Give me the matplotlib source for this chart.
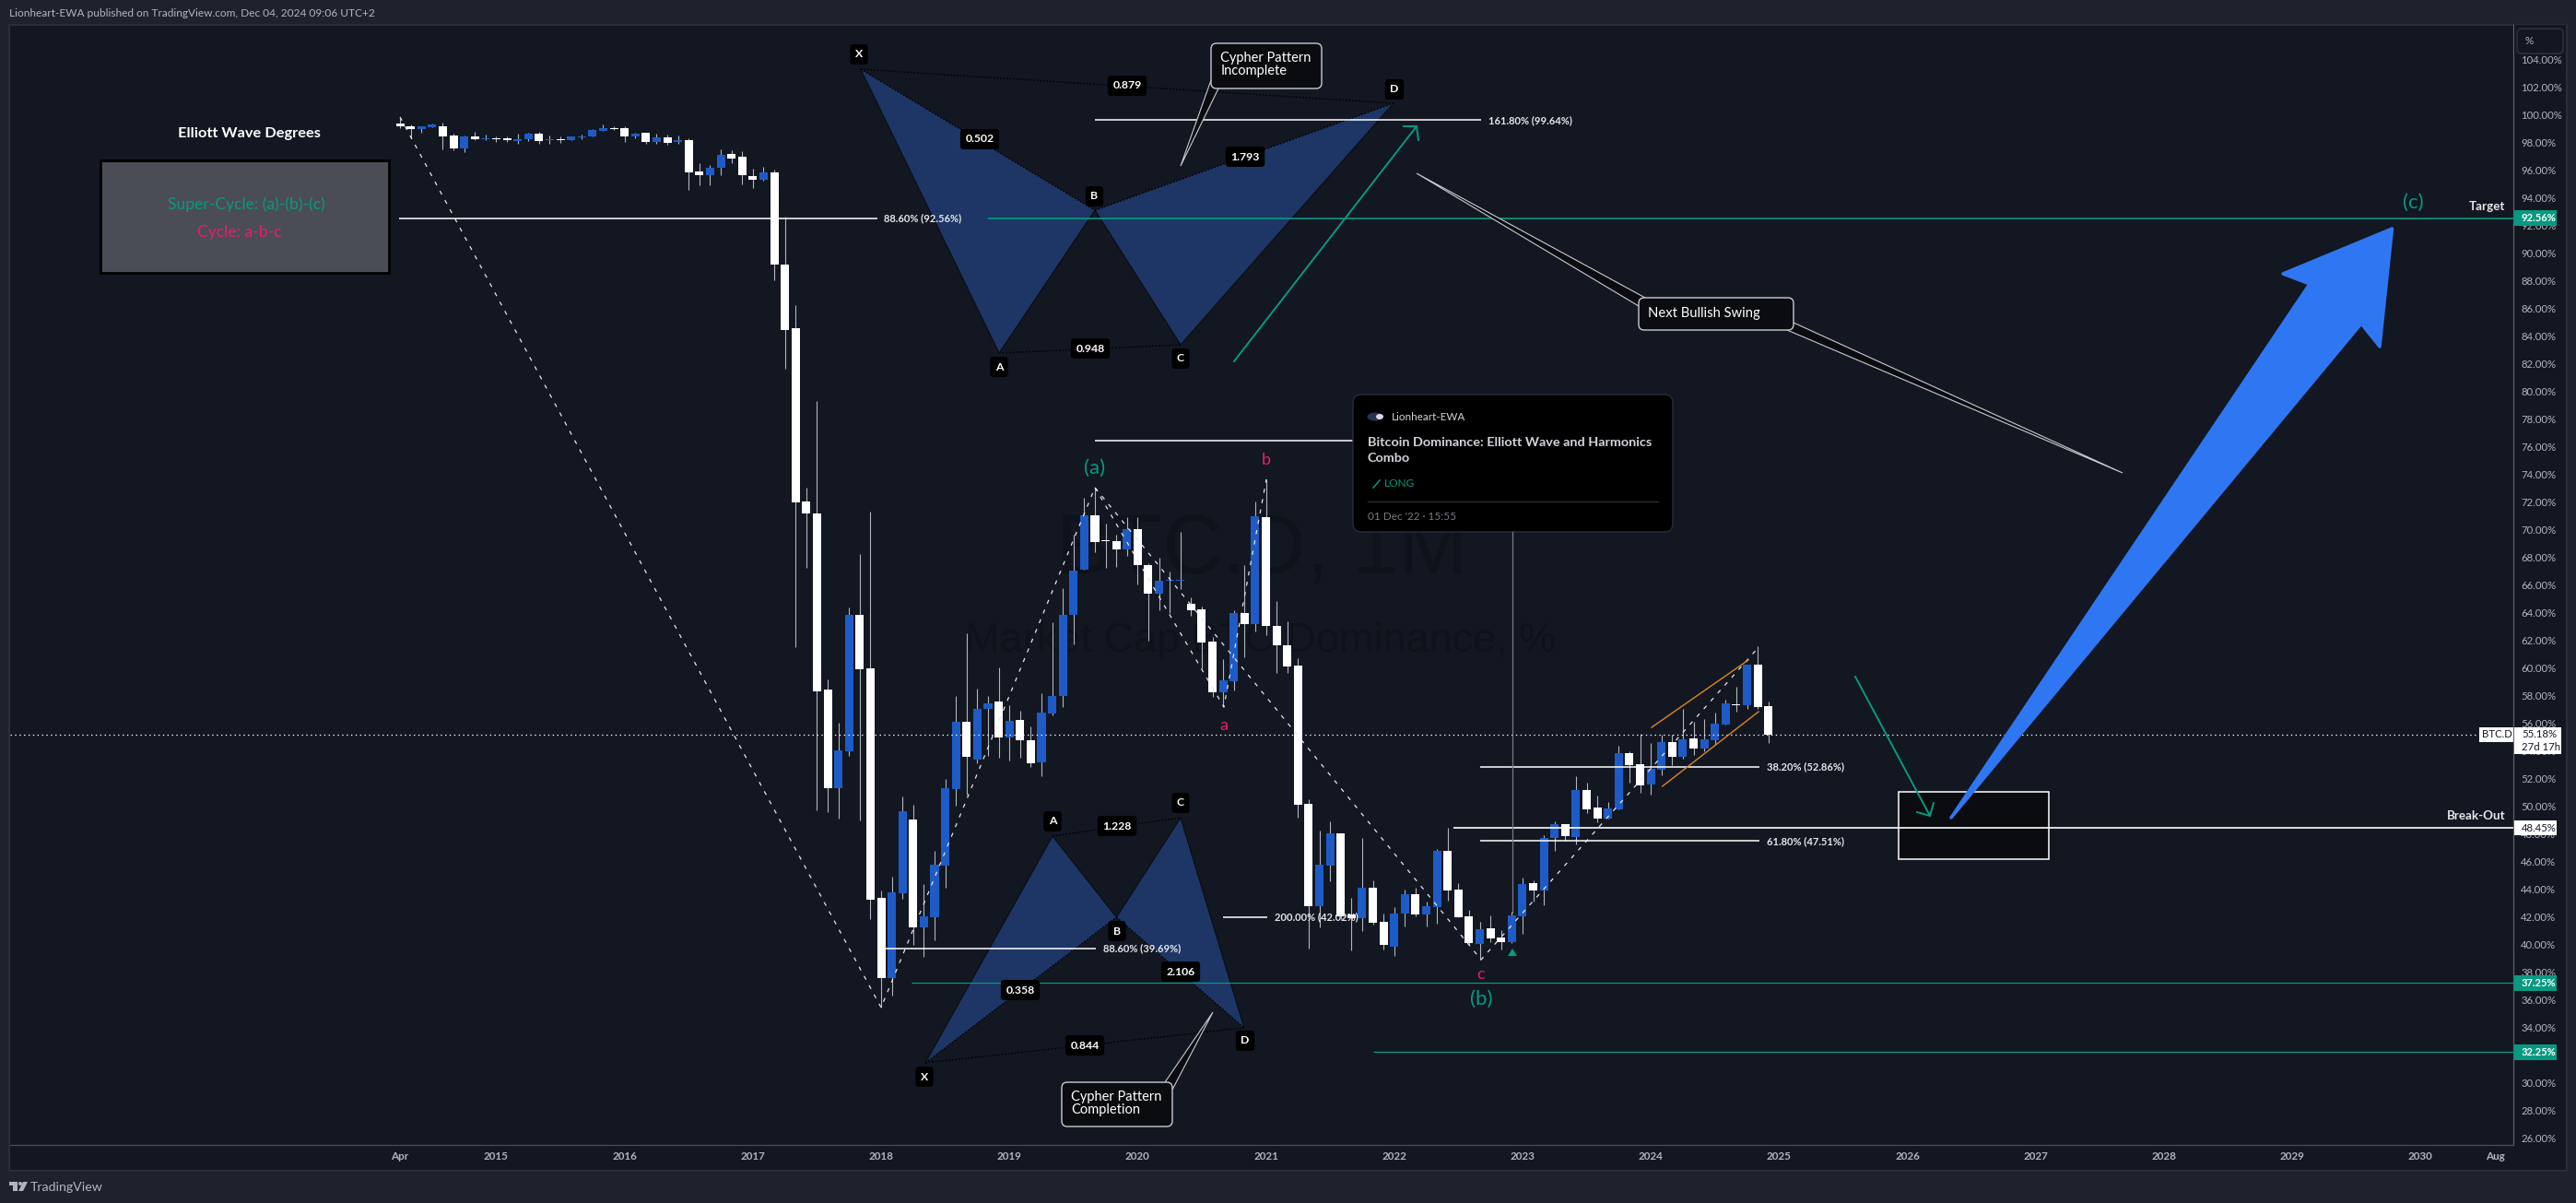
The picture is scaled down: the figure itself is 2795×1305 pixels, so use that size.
import numpy as np
import matplotlib
matplotlib.use("Agg")
import matplotlib.pyplot as plt
from matplotlib.patches import FancyBboxPatch, Polygon, Rectangle, Ellipse

# monthly BTC.D candles, Apr 2014 -> Dec 2024
opens = [99.40, 99.20, 99.00, 99.13, 99.20, 98.53, 97.60, 98.47, 98.27, 98.33,
         98.33, 98.13, 98.27, 98.67, 98.20, 98.27, 98.20, 98.40, 98.47, 98.87,
         99.07, 99.07, 98.47, 98.73, 98.07, 98.40, 98.07, 98.20, 95.93, 95.67,
         96.20, 97.20, 97.00, 95.60, 95.33, 95.87, 89.20, 84.60, 72.07, 71.20,
         58.47, 51.33, 54.00, 63.87, 60.00, 43.40, 37.62, 43.73, 49.07, 41.27,
         42.00, 45.73, 51.27, 56.13, 53.40, 57.07, 57.60, 55.00, 56.27, 54.80,
         53.20, 56.73, 58.00, 63.87, 67.13, 71.07, 69.27, 69.20, 68.60, 70.07,
         67.47, 65.40, 66.33, 66.33, 64.67, 64.27, 61.93, 58.27, 59.07, 64.00,
         63.19, 70.94, 63.06, 61.66, 60.20, 50.20, 42.81, 45.74, 48.06, 42.19,
         41.94, 44.13, 41.66, 39.87, 42.27, 43.67, 42.19, 42.73, 46.81, 44.00,
         42.07, 40.08, 41.20, 40.54, 40.20, 42.07, 44.46, 43.93, 47.73, 48.72,
         47.81, 51.20, 49.92, 49.13, 49.82, 53.87, 53.07, 51.60, 52.67, 54.67,
         53.60, 54.93, 54.20, 54.80, 55.93, 57.40, 57.33, 60.27, 57.27]
closes = [99.22, 99.00, 99.20, 99.33, 98.47, 97.60, 98.47, 98.27, 98.33, 98.27,
          98.20, 98.27, 98.67, 98.13, 98.27, 98.20, 98.47, 98.47, 98.93, 99.07,
          99.00, 98.47, 98.67, 98.07, 98.40, 98.00, 98.20, 95.87, 95.67, 96.20,
          97.13, 96.87, 95.67, 95.33, 95.87, 89.20, 84.47, 72.00, 71.20, 58.33,
          51.33, 54.07, 63.87, 59.93, 43.27, 37.62, 43.80, 49.67, 41.27, 42.07,
          45.80, 51.33, 56.13, 53.60, 57.07, 57.47, 55.00, 56.20, 54.80, 53.13,
          56.80, 58.00, 63.87, 67.07, 71.07, 69.13, 69.20, 68.60, 70.07, 67.47,
          65.40, 66.33, 66.40, 66.40, 64.20, 61.87, 58.27, 59.13, 64.00, 63.19,
          71.00, 63.06, 61.66, 60.15, 50.13, 42.81, 45.79, 48.06, 42.09, 41.94,
          44.13, 41.63, 40.00, 42.27, 43.67, 42.19, 42.81, 46.81, 43.93, 41.99,
          40.13, 41.12, 40.46, 40.20, 42.14, 44.39, 43.93, 47.73, 48.72, 47.86,
          51.20, 49.82, 49.13, 49.87, 53.88, 53.00, 51.53, 52.73, 54.67, 53.60,
          54.87, 54.20, 54.87, 56.00, 57.47, 57.33, 60.27, 57.20, 55.18]
highs = [99.78, 99.33, 99.20, 99.40, 99.47, 98.67, 98.53, 98.80, 98.60, 98.47,
         98.47, 98.67, 98.73, 98.80, 98.53, 98.47, 98.47, 98.60, 99.00, 99.33,
         99.20, 99.20, 98.73, 98.73, 98.67, 98.60, 98.53, 98.33, 96.53, 96.40,
         97.53, 97.47, 97.40, 96.13, 96.27, 96.07, 92.67, 86.27, 73.07, 79.33,
         59.20, 56.07, 64.40, 68.27, 71.33, 43.93, 44.93, 50.73, 50.13, 44.40,
         46.80, 52.00, 58.00, 62.53, 58.53, 58.00, 60.07, 57.33, 56.93, 55.80,
         58.20, 63.33, 65.80, 69.67, 72.33, 73.07, 70.47, 69.67, 70.93, 70.93,
         67.60, 68.00, 67.00, 69.87, 65.13, 64.47, 62.27, 60.67, 64.20, 67.47,
         72.07, 73.67, 64.87, 63.39, 60.71, 50.51, 48.27, 48.93, 48.06, 43.37,
         47.70, 44.64, 42.24, 42.73, 43.98, 44.13, 43.11, 46.94, 48.47, 44.46,
         42.53, 41.66, 42.14, 41.07, 42.40, 44.87, 44.64, 47.91, 48.93, 48.72,
         52.17, 51.73, 50.79, 50.33, 54.39, 54.00, 55.27, 54.60, 55.20, 55.20,
         57.07, 56.13, 56.33, 56.80, 57.73, 58.67, 60.27, 61.60, 57.60]
lows = [99.07, 98.33, 98.73, 99.13, 97.53, 97.47, 97.33, 98.20, 98.20, 98.07,
        98.07, 97.93, 98.13, 97.93, 97.93, 98.00, 98.20, 98.27, 98.47, 98.87,
        98.93, 98.07, 98.33, 97.93, 97.93, 97.87, 97.93, 94.60, 94.93, 94.93,
        95.67, 96.53, 95.00, 94.73, 95.27, 88.07, 81.67, 61.53, 67.27, 49.73,
        49.60, 49.13, 53.67, 49.00, 41.89, 35.44, 36.33, 43.33, 40.00, 39.13,
        40.33, 44.13, 50.07, 50.87, 53.11, 53.67, 53.53, 53.33, 53.53, 52.87,
        52.20, 56.60, 57.20, 61.73, 67.13, 68.40, 67.27, 67.33, 68.13, 66.07,
        62.00, 64.20, 64.00, 65.73, 63.80, 60.00, 57.93, 57.22, 58.40, 60.79,
        62.68, 62.42, 59.69, 59.69, 49.23, 39.75, 41.28, 44.59, 41.84, 39.59,
        40.99, 41.48, 39.67, 39.21, 41.33, 42.09, 41.33, 41.53, 43.19, 41.99,
        39.97, 38.90, 40.20, 39.67, 40.13, 40.77, 43.11, 42.88, 46.81, 47.50,
        47.27, 49.54, 48.85, 49.13, 49.82, 51.73, 51.00, 50.87, 52.27, 53.00,
        53.47, 53.73, 54.00, 54.47, 55.93, 56.87, 57.07, 57.07, 54.60]

# wave zigzags (year, percent)
swing_years = [2014.25, 2018.00, 2019.667, 2022.677, 2024.84]
swing_values = [99.87, 35.47, 73.07, 38.93, 61.53]
ab_years = [2019.667, 2020.672, 2021.003]
ab_values = [73.07, 57.20, 73.67]

# harmonic patterns X A B C D
top_years = [2017.84, 2018.92, 2019.667, 2020.335, 2021.994]
top_values = [103.33, 82.80, 93.13, 83.40, 100.87]
bottom_years = [2018.345, 2019.336, 2019.835, 2020.335, 2020.83]
bottom_values = [31.47, 47.87, 42.00, 49.20, 34.00]

# fib levels
fib_labels = ["88.60% (92.56%)", "161.80% (99.64%)", "38.20% (52.86%)",
              "61.80% (47.51%)", "88.60% (39.69%)", "200.00% (42.02%)"]
fib_values = [92.56, 99.64, 52.86, 47.51, 39.73, 42.02]
fib_starts = [2014.243, 2019.667, 2022.67, 2022.67, 2018.036, 2020.665]
fib_ends = [2017.97, 2022.677, 2024.846, 2024.846, 2019.674, 2021.01]

# horizontal levels with their price tags
target_level = 92.56
breakout_level = 48.45
support_levels = [37.25, 32.25]
support_starts = [2018.24, 2021.836]
last_price = 55.18

# channel around the last leg
upper_years, upper_values = [2024.006, 2024.76], [55.73, 60.60]
lower_years, lower_values = [2024.09, 2024.84], [51.47, 56.87]

price_ticks = list(range(26, 106, 2))
year_ticks = [2014.25] + list(range(2015, 2031)) + [2030.58]
year_labels = ["Apr"] + [str(y) for y in range(2015, 2031)] + ["Aug"]

W, H = 2795, 1305
BG = "#131722"
OUTER = "#1E222D"
TEAL = "#089981"
PINK = "#E91E63"
BLUE = "#1E5BC6"
GREY = "#B2B5BE"
DARK = "#0B0C10"
FILL = "#1E3868"

plt.rcParams["font.family"] = ["Lato", "DejaVu Sans"]
plt.rcParams["lines.scale_dashes"] = False

fig = plt.figure(figsize=(W / 100, H / 100), dpi=100, facecolor=OUTER)


def pixel_axes(z):
    a = fig.add_axes([0, 0, 1, 1], zorder=z)
    a.set_xlim(0, W)
    a.set_ylim(H, 0)
    a.axis("off")
    a.patch.set_alpha(0)
    return a


base = pixel_axes(0)
base.add_patch(Rectangle((10, 27), 2775, 1243, fc=BG, ec="#2A2E39", lw=1.5))

# main chart, the limits put 2018 at x=956 and 100% at y=125
ax = fig.add_axes([11 / W, (H - 1242) / H, (2727 - 11) / W, (1242 - 27) / H], zorder=1)
ax.set_facecolor(BG)
ax.patch.set_alpha(0)
ax.set_xlim(2011.211, 2030.723)
ax.set_ylim(25.533, 106.533)
for side in ["top", "left"]:
    ax.spines[side].set_visible(False)
ax.spines["right"].set_color("#5D606B")
ax.spines["bottom"].set_color("#4A4E59")
ax.spines["right"].set_linewidth(0.9)
ax.spines["bottom"].set_linewidth(0.9)

ax.yaxis.tick_right()
ax.set_yticks(price_ticks)
ax.set_yticklabels([f"{v}.00%" for v in price_ticks], color=GREY, fontsize=8.2)
ax.set_xticks(year_ticks)
ax.set_xticklabels(year_labels, color=GREY, fontsize=8.4, fontweight="bold")
ax.tick_params(axis="both", length=0)
ax.tick_params(axis="y", pad=6)
ax.tick_params(axis="x", pad=5)

# watermark
ax.text(2020.97, 66.87, "BTC.D, 1M", fontsize=65, color="#0E121A", ha="center", va="baseline",
        zorder=0.5, family="Liberation Sans")
ax.text(2020.96, 61.2, "Market Cap BTC Dominance, %", fontsize=32.5, color="#0E121A",
        ha="center", va="baseline", zorder=0.5, family="Liberation Sans")

# candles
opens_a, closes_a = np.array(opens), np.array(closes)
dates = 2014.25 + np.arange(len(opens_a)) / 12
colors = [BLUE if c > o else "white" for o, c in zip(opens_a, closes_a)]
ax.vlines(dates, lows, highs, color=GREY, lw=0.8, zorder=2)
ax.bar(dates, np.abs(closes_a - opens_a), bottom=np.minimum(opens_a, closes_a),
       width=0.0647, color=colors, lw=0, zorder=3)

# black box with the break-out line through it
ax.add_patch(Rectangle((2025.93, 46.2), 1.17, 4.87, fc=DARK, ec="white", lw=1.1, zorder=4))

# levels
ax.hlines(target_level, 2018.83, 2030.723, color=TEAL, lw=1.2, zorder=5)
ax.hlines(breakout_level, 2022.46, 2030.723, color="white", lw=1.2, zorder=5)
ax.hlines(support_levels, support_starts, 2030.723, color=TEAL, lw=0.9, zorder=5)
ax.plot([2011.211, 2030.45], [last_price, last_price], color="white", lw=0.9,
        ls=(0, (1, 2.5)), zorder=4)
ax.hlines(76.47, 2019.67, 2021.68, color="white", lw=1.1, zorder=5)

# harmonic patterns
for yrs, vals in [(top_years, top_values), (bottom_years, bottom_values)]:
    pts = list(zip(yrs, vals))
    x_, a_, b_, c_, d_ = pts
    ax.add_patch(Polygon([x_, a_, b_], fc=FILL, ec="none", alpha=0.97, zorder=4.5))
    ax.add_patch(Polygon([b_, c_, d_], fc=FILL, ec="none", alpha=0.97, zorder=4.5))
    for p, q in [(x_, a_), (a_, b_), (b_, c_), (c_, d_)]:
        ax.plot([p[0], q[0]], [p[1], q[1]], color="#0B0E14", lw=0.9, zorder=4.6)
    for p, q in [(x_, b_), (b_, d_), (x_, d_), (a_, c_)]:
        ax.plot([p[0], q[0]], [p[1], q[1]], color="black", lw=1.0, ls=(0, (1.2, 1.4)), zorder=4.6)

# wave lines
dash = (0, (3.2, 5))
ax.plot(swing_years, swing_values, color="#E8E9EC", lw=0.9, ls=dash, zorder=6)
ax.plot(ab_years, ab_values, color="#E8E9EC", lw=0.9, ls=dash, zorder=6)
ax.plot(upper_years, upper_values, color="#D88A1D", lw=1.0, zorder=6)
ax.plot(lower_years, lower_values, color="#D88A1D", lw=1.0, zorder=6)

# fib lines with their text
for lab, val, x0, x1 in zip(fib_labels, fib_values, fib_starts, fib_ends):
    ax.hlines(val, x0, x1, color="white", lw=1.1, zorder=5)
    ax.annotate(lab, (x1, val), xytext=(5.5, 0), textcoords="offset points", ha="left",
                va="center", color="#E6E7EA", fontsize=8.0, fontweight="bold", zorder=7)

# ---- everything below is drawn in picture pixels
ov = pixel_axes(2)


def txt(x, y, s, size=9, color="white", ha="left", weight="normal", **kw):
    return ov.text(x, y, s, fontsize=size, color=color, ha=ha, va="center", fontweight=weight, **kw)


def box(x0, y0, x1, y1, fc, ec, lw=1.0, r=6):
    p = FancyBboxPatch((x0, y0), x1 - x0, y1 - y0, boxstyle=f"round,pad=0,rounding_size={r}",
                       fc=fc, ec=ec, lw=lw)
    ov.add_patch(p)


txt(10, 15, "Lionheart-EWA published on TradingView.com, Dec 04, 2024 09:06 UTC+2", size=8.6, color=GREY)

# logo and name at the bottom
ov.add_patch(Polygon([(10, 1282), (19, 1282), (19, 1292), (14, 1292), (14, 1286), (10, 1286)], fc=GREY, ec="none"))
ov.add_patch(Ellipse((22, 1284), 4, 4, fc=GREY, ec="none"))
ov.add_patch(Polygon([(25, 1282), (30, 1282), (25, 1292), (20, 1292)], fc=GREY, ec="none"))
txt(33, 1288, "TradingView", size=10.2, color=GREY)

# degrees box
txt(270, 145, "Elliott Wave Degrees", size=11.8, ha="center", weight="bold")
ov.add_patch(Rectangle((109, 174), 313, 122, fc="#4A4D55", ec="black", lw=2))
txt(267, 222, "Super-Cycle: (a)-(b)-(c)", size=12.6, color=TEAL, ha="center")
txt(260, 252, "Cycle: a-b-c", size=12.6, color=PINK, ha="center")

# wave labels
for x, y, s in [(1188, 508, "(a)"), (1607, 1084, "(b)"), (2618, 220, "(c)")]:
    txt(x, y, s, size=16, color=TEAL, ha="center")
for x, y, s in [(1328, 787, "a"), (1374, 499, "b"), (1607, 1057, "c")]:
    txt(x, y, s, size=13, color=PINK, ha="center")

# pattern tags
tags = [(932, 59, "X"), (1084, 398, "A"), (1187.5, 213, "B"), (1281, 389, "C"), (1513, 97, "D"),
        (1223, 93, "0.879"), (1063, 151, "0.502"), (1351, 170, "1.793"), (1183, 378, "0.948"),
        (1003, 1168, "X"), (1142, 891, "A"), (1212, 1010, "B"), (1281, 871, "C"), (1351, 1129, "D"),
        (1212, 896, "1.228"), (1107, 1074, "0.358"), (1281, 1054, "2.106"), (1177, 1134, "0.844")]
for x, y, s in tags:
    txt(x, y, s, size=8.8, ha="center", weight="bold",
        bbox=dict(boxstyle="round,pad=0.45,rounding_size=0.3", fc="black", ec="none"))

# callouts
ov.add_patch(Polygon([(1314, 87), (1281, 180), (1322, 96)], fc=DARK, ec="#C9CBD1", lw=0.8))
box(1314, 47, 1434, 96, DARK, "#C9CBD1")
txt(1324.5, 63, "Cypher Pattern", size=10.5)
txt(1324.5, 77, "Incomplete", size=10.5)

ov.add_patch(Polygon([(1264, 1174), (1316, 1098), (1272, 1182)], fc=DARK, ec="#C9CBD1", lw=0.8))
box(1152, 1174, 1272, 1222, DARK, "#C9CBD1")
txt(1162, 1190, "Cypher Pattern", size=10.5)
txt(1162, 1204, "Completion", size=10.5)

ov.add_patch(Polygon([(1785, 323), (1537, 188), (1778, 332)], fc=DARK, ec="#C9CBD1", lw=0.8))
ov.add_patch(Polygon([(1946, 350), (2303, 513), (1939, 358)], fc=DARK, ec="#C9CBD1", lw=0.8))
box(1778, 323, 1946, 358, DARK, "#C9CBD1")
txt(1788.5, 340, "Next Bullish Swing", size=10.6)

# idea popup
ov.plot([1641, 1641], [577, 990], color="#787B86", lw=0.9)
ov.add_patch(Polygon([(1636, 1037), (1646, 1037), (1641, 1029)], fc=TEAL, ec="none"))
box(1468, 428, 1815, 577, "black", "#2A2E39", lw=1.0, r=9)
ov.add_patch(Ellipse((1492, 452), 17, 9, fc="#26324E", ec="none"))
ov.add_patch(Ellipse((1497, 452), 8, 6, fc="#D8DAE0", ec="none"))
txt(1510, 452, "Lionheart-EWA", size=8.4, color="#D1D4DC")
txt(1484, 480, "Bitcoin Dominance: Elliott Wave and Harmonics", size=10.4, color="#D1D4DC", weight="bold")
txt(1484, 497, "Combo", size=10.4, color="#D1D4DC", weight="bold")
ov.plot([1490, 1497], [529, 521], color=TEAL, lw=1.1)
txt(1502, 525, "LONG", size=8.6, color=TEAL)
ov.plot([1484, 1799], [544, 544], color="#2A2E39", lw=1)
txt(1484, 560, "01 Dec '22 · 15:55", size=8.5, color="#787B86")

# teal arrows
ov.plot([1339, 1537], [392, 137], color=TEAL, lw=1.4)
ov.plot([1523, 1537, 1539], [137, 137, 152], color=TEAL, lw=1.4)
ov.plot([2013, 2094], [734, 885], color=TEAL, lw=1.4)
ov.plot([2080, 2094, 2098], [881, 885, 871], color=TEAL, lw=1.4)

# big blue arrow
ov.add_patch(Polygon([(2117, 887), (2506, 308), (2477, 297), (2595.5, 248), (2582, 376), (2562, 351)],
                     fc="#2F77F2", ec="#2F77F2", lw=2.5, joinstyle="round"))

# right hand text and price tags
txt(2718, 224, "Target", size=9.6, color="#E6E7EA", ha="right", weight="bold")
txt(2718, 885, "Break-Out", size=9.6, color="#E6E7EA", ha="right", weight="bold")

ov.add_patch(Rectangle((2728, 27), 56, 34, fc=BG, ec="none"))
box(2731, 31, 2781, 58, BG, "#2A2E39", lw=1.3, r=5)
txt(2740, 44.5, "%", size=8.4, color=GREY)

for y0, y1, s in [(228, 245, "92.56%"), (1058, 1075, "37.25%"), (1133, 1150, "32.25%")]:
    ov.add_patch(Rectangle((2728, y0), 46, y1 - y0, fc=TEAL, ec="none"))
    txt(2736, (y0 + y1) / 2, s, size=8.0, weight="bold")
ov.add_patch(Rectangle((2728, 890), 46, 16, fc="white", ec="none"))
txt(2736, 898, "48.45%", size=8.2, color="#131722")
ov.add_patch(Rectangle((2728, 789), 51, 29, fc="white", ec="none"))
txt(2736, 797, "55.18%", size=8.2, color="#131722")
txt(2736, 811, "27d 17h", size=8.2, color="#131722")
ov.add_patch(Rectangle((2690, 789), 37, 16, fc="white", ec="none"))
txt(2693, 797, "BTC.D", size=8.2, color="#131722")

fig.savefig("out.png", dpi=100, facecolor=OUTER)
